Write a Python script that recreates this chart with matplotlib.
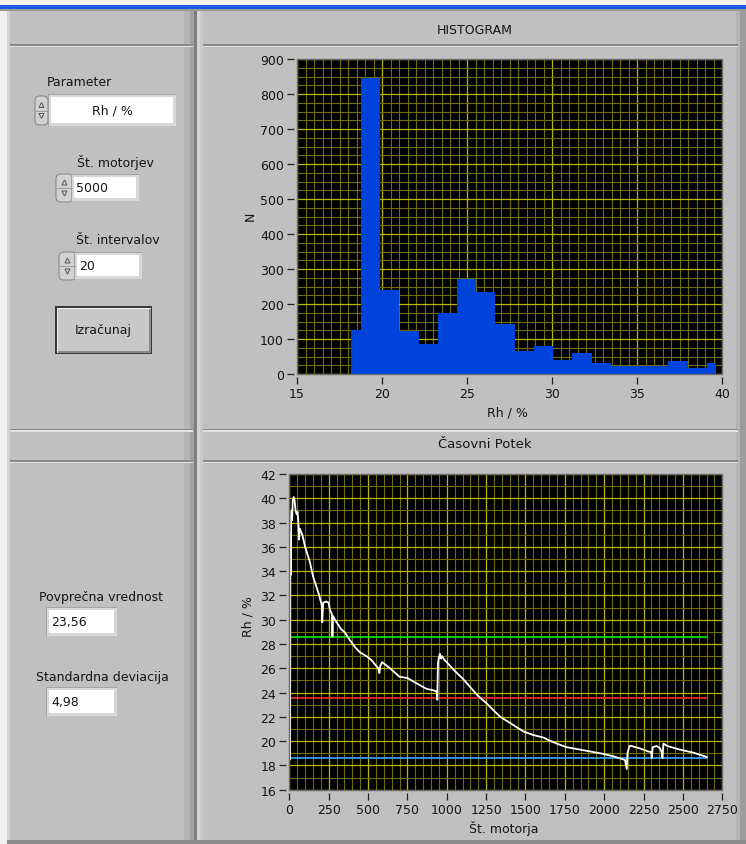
import matplotlib
matplotlib.use('Agg')
import matplotlib.pyplot as plt
from matplotlib.patches import Rectangle, FancyBboxPatch, Polygon
from matplotlib.ticker import MultipleLocator

# ---------------- data ----------------
hist_x = [18.20, 19.33, 20.46, 21.59, 22.72, 23.84, 24.97, 26.10, 27.23, 28.36,
          29.49, 30.62, 31.75, 32.88, 34.01, 35.13, 36.26, 37.39, 38.52, 39.65]
hist_n = [126, 847, 241, 123, 86, 174, 272, 234, 142, 66,
          81, 39, 59, 32, 24, 24, 24, 38, 17, 32]
hist_xticks = [15, 20, 25, 30, 35, 40]
hist_yticks = [0, 100, 200, 300, 400, 500, 600, 700, 800, 900]

ts_x = [5, 7, 10, 12, 15, 18, 22, 28, 34, 40, 46, 52, 58, 62, 66, 72, 80, 90, 100,
        115, 130, 150, 170, 190, 200, 206, 209, 215, 235, 250, 258, 270, 274, 278,
        290, 310, 330, 350, 375, 392, 420, 450, 490, 520, 545, 565, 572, 578, 590,
        610, 640, 700, 750, 790, 830, 873, 910, 935, 940, 944, 950, 957, 963, 970,
        985, 1000, 1042, 1105, 1159, 1201, 1254, 1300, 1340, 1402, 1450, 1487,
        1550, 1613, 1660, 1698, 1762, 1847, 1931, 1994, 2058, 2132, 2143, 2148,
        2160, 2172, 2200, 2227, 2280, 2298, 2302, 2308, 2333, 2355, 2365, 2370,
        2376, 2400, 2481, 2566, 2651]
ts_y = [18.5, 37.0, 33.7, 38.5, 39.0, 38.2, 39.8, 40.1, 39.8, 39.0, 38.7, 38.9,
        38.0, 36.6, 37.5, 37.3, 37.1, 36.6, 36.0, 35.4, 34.8, 33.6, 32.8, 32.0,
        31.5, 31.2, 29.8, 31.4, 31.5, 31.4, 30.8, 30.5, 28.6, 30.3, 30.0, 29.6,
        29.2, 29.0, 28.5, 28.2, 27.7, 27.3, 27.0, 26.7, 26.3, 26.0, 25.6, 26.2,
        26.5, 26.3, 26.0, 25.3, 25.2, 24.9, 24.6, 24.3, 24.2, 24.1, 23.4, 26.4,
        26.9, 27.2, 26.8, 27.0, 26.7, 26.5, 25.9, 25.1, 24.3, 23.7, 23.1, 22.5,
        22.0, 21.5, 21.1, 20.8, 20.5, 20.3, 20.0, 19.8, 19.5, 19.3, 19.1, 18.95,
        18.75, 18.45, 17.7, 19.0, 19.6, 19.6, 19.5, 19.4, 19.15, 19.1, 18.6, 19.5,
        19.6, 19.4, 19.1, 18.6, 19.8, 19.6, 19.3, 19.05, 18.7]
mean_val = 23.56
std_val = 4.98
ts_xticks = [0, 250, 500, 750, 1000, 1250, 1500, 1750, 2000, 2250, 2500, 2750]
ts_yticks = [16, 18, 20, 22, 24, 26, 28, 30, 32, 34, 36, 38, 40, 42]

# ---------------- figure ----------------
W, H = 746, 845
plt.rcParams['font.family'] = ['DejaVu Sans']
fig = plt.figure(figsize=(W / 100, H / 100), dpi=100, facecolor='#c0c0c0')

bg = fig.add_axes([0, 0, 1, 1], zorder=0)
bg.set_xlim(0, W)
bg.set_ylim(H, 0)
bg.axis('off')

TXT = '#141414'
FS = 9


def rect(x0, y0, x1, y1, fc, ec='none', lw=0, z=1):
    bg.add_patch(Rectangle((x0, y0), x1 - x0, y1 - y0, facecolor=fc,
                           edgecolor=ec, lw=lw, zorder=z))


# window chrome
rect(0, 0, W, 6, '#f3f3f3')
rect(0, 5.5, W, 9.5, '#1a5be0')
rect(0, 9.5, W, 11.5, '#9a9a9a')
rect(0, 11.5, 7, H, '#f0f0f0')
rect(7, 11.5, 10, H, '#d2d2d2')
# left panel right edge shading / splitter
rect(184, 11.5, 190, H, '#b4b4b4')
rect(190, 11.5, 194, H, '#a2a2a2')
rect(194, 11.5, 197, H, '#7e7e7e')
rect(197, 11.5, 200, H, '#d6d6d6')
rect(200, 11.5, 203, H, '#c8c8c8')
# right panel right edge
rect(736, 11.5, 740, H, '#b4b4b4')
rect(740, 11.5, W, H, '#9c9c9c')
# bottom edge
rect(7, 841, W, H, '#8e8e8e')

# horizontal separators
for yy in (45, 429.5, 461):
    rect(10, yy, 193, yy + 1.5, '#8a8a8a', z=2)
    rect(10, yy + 1.5, 193, yy + 3, '#e2e2e2', z=2)
    rect(203, yy, 738, yy + 1.5, '#8a8a8a', z=2)
    rect(203, yy + 1.5, 738, yy + 3, '#e2e2e2', z=2)

# headers
bg.text(475, 30, 'HISTOGRAM', ha='center', va='center', fontsize=FS, color=TXT)
bg.text(485, 445, 'Časovni Potek', ha='center', va='center', fontsize=FS + 0.5,
        color=TXT)


def spinner(x0, y0, x1, y1):
    bg.add_patch(FancyBboxPatch((x0 + 1, y0 + 1), x1 - x0 - 2, y1 - y0 - 2,
                                boxstyle='round,pad=0,rounding_size=5',
                                facecolor='#d2d2d2', edgecolor='#8a8a8a',
                                lw=0.8, zorder=3))
    xc = (x0 + x1) / 2
    ym = (y0 + y1) / 2
    bg.plot([x0 + 2, x1 - 2], [ym, ym], color='#9a9a9a', lw=0.7, zorder=4)
    bg.add_patch(Polygon([[xc - 2.5, ym - 3], [xc + 2.5, ym - 3], [xc, ym - 8]],
                         closed=True, fill=False, edgecolor='#555555', lw=0.7,
                         zorder=4))
    bg.add_patch(Polygon([[xc - 2.5, ym + 3], [xc + 2.5, ym + 3], [xc, ym + 8]],
                         closed=True, fill=False, edgecolor='#555555', lw=0.7,
                         zorder=4))


def tbox(x0, y0, x1, y1):
    rect(x0, y0, x1, y1, '#a4a4a4', z=3)
    rect(x0 + 1, y0 + 1, x1, y1, '#d8d8d8', z=3)
    rect(x0 + 3, y0 + 3, x1 - 3, y1 - 3, '#ffffff', z=4)


# Parameter ring
bg.text(79, 83, 'Parameter', ha='center', va='center', fontsize=FS, color=TXT)
spinner(34, 96, 49, 127)
tbox(48, 95, 176, 127)
bg.text(112, 111.5, 'Rh / %', ha='center', va='center', fontsize=FS, color=TXT,
        zorder=5)

# Št. motorjev
bg.text(115, 163, 'Št. motorjev', ha='center', va='center', fontsize=FS,
        color=TXT)
spinner(55, 174, 74, 204)
tbox(71, 175, 139, 202)
bg.text(76, 189, '5000', ha='left', va='center', fontsize=FS, color=TXT,
        zorder=5)

# Št. intervalov
bg.text(118, 240, 'Št. intervalov', ha='center', va='center', fontsize=FS,
        color=TXT)
spinner(58, 252, 77, 282)
tbox(74, 253, 142, 280)
bg.text(79, 267, '20', ha='left', va='center', fontsize=FS, color=TXT, zorder=5)

# button
rect(55, 307, 152, 355, '#3a3a3a', z=3)
rect(56.5, 308.5, 150.5, 353.5, '#f0f0f0', z=3)
rect(58, 310, 150.5, 353.5, '#8a8a8a', z=3)
rect(58, 310, 149, 352, '#c8c8c8', z=3)
bg.text(103, 331, 'Izračunaj', ha='center', va='center', fontsize=FS,
        color=TXT, zorder=5)

# results
bg.text(101, 598, 'Povprečna vrednost', ha='center', va='center', fontsize=FS,
        color=TXT)
tbox(46, 608, 117, 637)
bg.text(51, 623, f'{mean_val:.2f}'.replace('.', ','), ha='left', va='center',
        fontsize=FS, color=TXT, zorder=5)
bg.text(102, 678, 'Standardna deviacija', ha='center', va='center',
        fontsize=FS, color=TXT)
tbox(46, 688, 117, 717)
bg.text(51, 703, f'{std_val:.2f}'.replace('.', ','), ha='left', va='center',
        fontsize=FS, color=TXT, zorder=5)


# ---------------- plot axes ----------------
def make_ax(l, t, r, b):
    ax = fig.add_axes([l / W, 1 - b / H, (r - l) / W, (b - t) / H], zorder=2)
    ax.set_facecolor('black')
    for s in ('top', 'right'):
        ax.spines[s].set_visible(False)
    for s in ('left', 'bottom'):
        ax.spines[s].set_position(('outward', 2.5))
        ax.spines[s].set_visible(False)
    ax.add_patch(Rectangle((0, 0), 1, 1, transform=ax.transAxes, fill=False,
                           edgecolor='#6a6a6a', lw=1.0, zorder=10,
                           clip_on=False))
    ax.tick_params(which='major', direction='out', length=5, width=0.9,
                   color='#202020', labelcolor=TXT, labelsize=FS, pad=2)
    ax.tick_params(which='minor', length=0)
    ax.grid(which='minor', color='#6e6e00', lw=0.8)
    ax.grid(which='major', color='#b8b800', lw=0.9)
    ax.set_axisbelow(True)
    return ax


# Histogram
L1, T1, R1, B1 = 297, 60, 722.3, 375
ax1 = make_ax(L1, T1, R1, B1)
ax1.fill_between(hist_x, hist_n, step='mid', color='#0043da', lw=0, zorder=3)
ax1.set_xlim(15, 40)
ax1.set_ylim(0, 900)
ax1.set_xticks(hist_xticks)
ax1.set_yticks(hist_yticks)
ax1.xaxis.set_minor_locator(MultipleLocator(0.5))
ax1.yaxis.set_minor_locator(MultipleLocator(25))
ax1.set_xlabel('Rh / %', fontsize=FS, color=TXT, va='center')
ax1.set_ylabel('N', fontsize=FS, color=TXT, va='center')
ax1.xaxis.set_label_coords((507 - L1) / (R1 - L1), (B1 - 413) / (B1 - T1))
ax1.yaxis.set_label_coords((250 - L1) / (R1 - L1), (B1 - 216) / (B1 - T1))

# Time series
L2, T2, R2, B2 = 289.3, 475, 722.3, 790.7
ax2 = make_ax(L2, T2, R2, B2)
x_end = ts_x[-1]
ax2.plot([0, x_end], [mean_val + std_val] * 2, color='#00ee00', lw=1.2, zorder=3)
ax2.plot([0, x_end], [mean_val] * 2, color='#ff2a2a', lw=1.2, zorder=3)
ax2.plot([0, x_end], [mean_val - std_val] * 2, color='#3da2ff', lw=1.2, zorder=3)
ax2.plot(ts_x, ts_y, color='white', lw=1.3, zorder=4)
ax2.set_xlim(0, 2750)
ax2.set_ylim(16, 42)
ax2.set_xticks(ts_xticks)
ax2.set_yticks(ts_yticks)
ax2.xaxis.set_minor_locator(MultipleLocator(50))
ax2.yaxis.set_minor_locator(MultipleLocator(1))
ax2.set_xlabel('Št. motorja', fontsize=FS, color=TXT, va='center')
ax2.set_ylabel('Rh / %', fontsize=FS, color=TXT, va='center')
ax2.xaxis.set_label_coords((504 - L2) / (R2 - L2), (B2 - 829) / (B2 - T2))
ax2.yaxis.set_label_coords((248 - L2) / (R2 - L2), (B2 - 617) / (B2 - T2))

fig.savefig('out.png', dpi=100, facecolor=fig.get_facecolor())
